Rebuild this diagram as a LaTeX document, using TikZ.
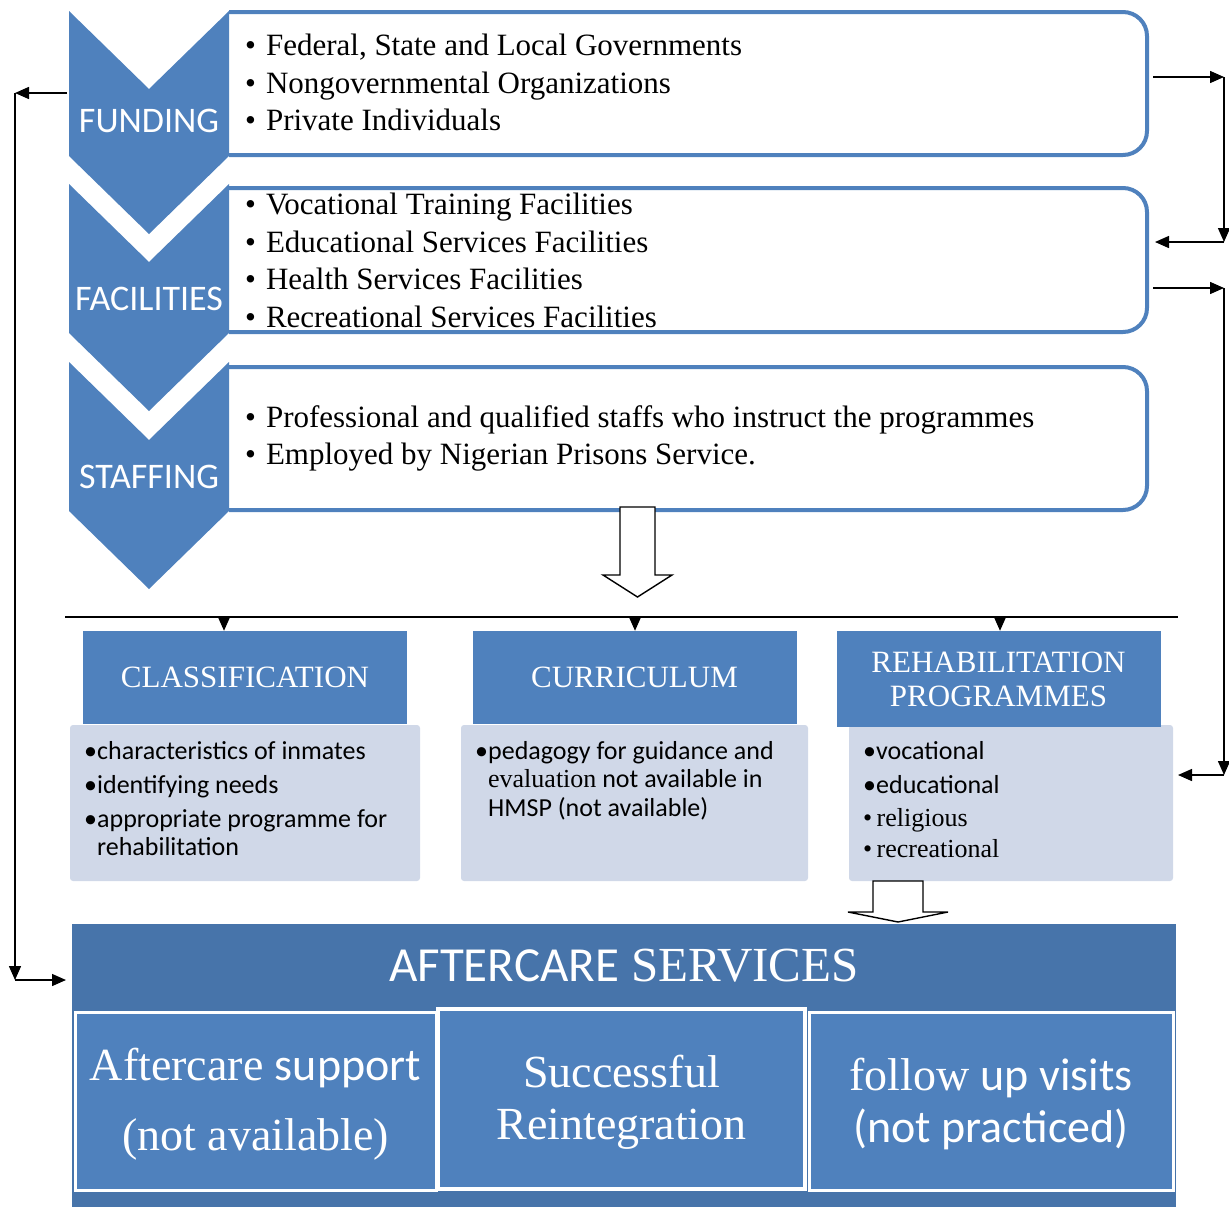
\documentclass[tikz,border=0pt]{standalone}
\usepackage{fontspec}
\setmainfont{Liberation Serif}
\newfontfamily\carlito{Carlito}
\usetikzlibrary{arrows.meta}
\definecolor{chevblue}{RGB}{79,129,189}
\definecolor{bandblue}{RGB}{71,116,170}
\definecolor{bodygrey}{RGB}{208,216,232}

\begin{document}
\begin{tikzpicture}[x=1pt,y=-1pt,
        chev/.style={fill=chevblue},
        chevlabel/.style={text=white,inner sep=0pt,font=\carlito\fontsize{36}{40}\selectfont},
        listbox/.style={draw=chevblue,line width=4pt,rounded corners=24pt,fill=white},
        listtext/.style={anchor=west,align=left,inner sep=0pt,font=\fontsize{31}{37.5}\selectfont},
        head/.style={fill=chevblue,text=white,minimum width=324pt,minimum height=93pt,
            inner sep=0pt,align=center,font=\fontsize{31}{34}\selectfont},
        body/.style={fill=bodygrey,rounded corners=3pt,minimum height=156pt,inner sep=0pt},
        bodytext/.style={anchor=north west,align=left,inner sep=0pt,font=\carlito\fontsize{26}{28}\selectfont},
        link/.style={-{Triangle[length=14pt,width=12pt]},line width=1.5pt},
        hollow/.style={draw=black,fill=white,line width=1.4pt},
        result/.style={fill=chevblue,draw=white,line width=3pt,inner sep=0pt},
        resulttext/.style={text=white,align=center,inner sep=0pt,font=\fontsize{46}{52}\selectfont}]
\useasboundingbox (0,0) rectangle (1229,1208);

% list boxes, left end hidden by the chevrons
\draw[listbox] (229,12) -- (1147,12) -- (1147,155) -- (229,155);
\draw[listbox] (229,188) -- (1147,188) -- (1147,332) -- (229,332);
\draw[listbox] (229,367) -- (1147,367) -- (1147,510) -- (229,510);

\fill[chev] (69,11) -- (149,89) -- (229,11) -- (229,156) -- (149,234) -- (69,156) -- cycle;
\fill[chev] (69,184) -- (149,262) -- (229,184) -- (229,333) -- (149,411) -- (69,333) -- cycle;
\fill[chev] (69,362) -- (149,440) -- (229,362) -- (229,511) -- (149,589) -- (69,511) -- cycle;

\node[chevlabel] (fund) at (149,121) {FUNDING};
\node[chevlabel] (fac) at (149,299) {FACILITIES};
\node[chevlabel] (staff) at (149,477) {STAFFING};

\node[listtext] (fundlist) at (245,82.5) {\textbullet\hspace{10pt}Federal, State and Local Governments\\
    \textbullet\hspace{10pt}Nongovernmental Organizations\\
    \textbullet\hspace{10pt}Private Individuals};
\node[listtext] (faclist) at (245,260.5) {\textbullet\hspace{10pt}Vocational Training Facilities\\
    \textbullet\hspace{10pt}Educational Services Facilities\\
    \textbullet\hspace{10pt}Health Services Facilities\\
    \textbullet\hspace{10pt}Recreational Services Facilities};
\node[listtext] (stafflist) at (245,438.5) {\textbullet\hspace{10pt}Professional and qualified staffs who instruct the programmes\\
    \textbullet\hspace{10pt}Employed by Nigerian Prisons Service.};

% feedback arrows on the right
\coordinate (fundout) at (1153,77);
\coordinate (r1) at (1224,77);
\coordinate (r2) at (1224,242);
\coordinate (facin) at (1155,242);
\draw[link] (fundout) -- (r1);
\draw[link] (r1) -- (r2);
\draw[link] (r2) -- (facin);
\coordinate (facout) at (1153,288);
\coordinate (r3) at (1224,288);
\coordinate (r4) at (1224,775);
\coordinate (rehabin) at (1178,775);
\draw[link] (facout) -- (r3);
\draw[link] (r3) -- (r4);
\draw[link] (r4) -- (rehabin);

% feedback arrow on the left
\coordinate (fundleft) at (67,93);
\coordinate (l1) at (15,93);
\coordinate (l2) at (15,980);
\coordinate (aftin) at (66,980);
\draw[link] (fundleft) -- (l1);
\draw[link] (l1) -- (l2);
\draw[link] (l2) -- (aftin);

\draw[hollow] (620,507) -- (655,507) -- (655,575) -- (672,575) -- (637.5,597) -- (603,575) -- (620,575) -- cycle;

\coordinate (lineL) at (65,617);
\coordinate (lineR) at (1178,617);
\draw[line width=1.4pt] (lineL) -- (lineR);

\node[body,minimum width=350pt] (classbody) at (245,803) {};
\node[body,minimum width=347pt] (currbody) at (634.5,803) {};
\node[body,minimum width=324pt] (rehabbody) at (1011,803) {};

\node[head] (classif) at (245,677.5) {CLASSIFICATION};
\node[head] (curric) at (634.5,677.5) {CURRICULUM};
\node[head,minimum height=96pt] (rehab) at (998.5,679) {REHABILITATION\\PROGRAMMES};

\coordinate (d1) at (224,617);
\coordinate (d2) at (635,617);
\coordinate (d3) at (1000,617);
\draw[link] (d1) -- (d1 |- classif.north);
\draw[link] (d2) -- (d2 |- curric.north);
\draw[link] (d3) -- (d3 |- rehab.north);

\node[bodytext] (classlist) at (84,741) {\textbullet characteristics of inmates\\[6pt]
    \textbullet identifying needs\\[6pt]
    \textbullet appropriate programme for\\
    \phantom{\textbullet}rehabilitation};
\node[bodytext] (currlist) at (475,741) {\textbullet pedagogy for guidance and\\[0.5pt]
    \phantom{\textbullet}{\rmfamily evaluation} not available in\\[0.5pt]
    \phantom{\textbullet}HMSP (not available)};
\node[bodytext] (rehablist) at (863,741) {\textbullet vocational\\[6pt]
    \textbullet educational\\[5pt]
    {\rmfamily\textbullet\,religious}\\[3pt]
    {\rmfamily\textbullet\,recreational}};

% aftercare block
\node[fill=bandblue,minimum width=1104pt,minimum height=283pt,inner sep=0pt] (band) at (624,1065.5) {};
\node[text=white,inner sep=0pt,font=\fontsize{49}{52}\selectfont] (aft) at (624,966) {{\carlito AFTERCARE} SERVICES};
\node[result,minimum width=361pt,minimum height=178pt] (support) at (255.5,1101) {};
\node[resulttext] (supporttext) at (255.5,1104) {Aftercare {\carlito support}\\[18pt](not available)};
\node[result,minimum width=364pt,minimum height=178pt] (visits) at (991,1101) {};
\node[resulttext] (visitstext) at (991,1104) {follow {\carlito up visits}\\{\carlito (not practiced)}};
\node[result,line width=4pt,minimum width=367pt,minimum height=180pt] (success) at (621.5,1099) {};
\node[resulttext] (successtext) at (621.5,1102) {Successful\\Reintegration};

\draw[hollow] (873,881) -- (923,881) -- (923,912) -- (948,912) -- (898,922) -- (848,912) -- (873,912) -- cycle;
\end{tikzpicture}
\end{document}
